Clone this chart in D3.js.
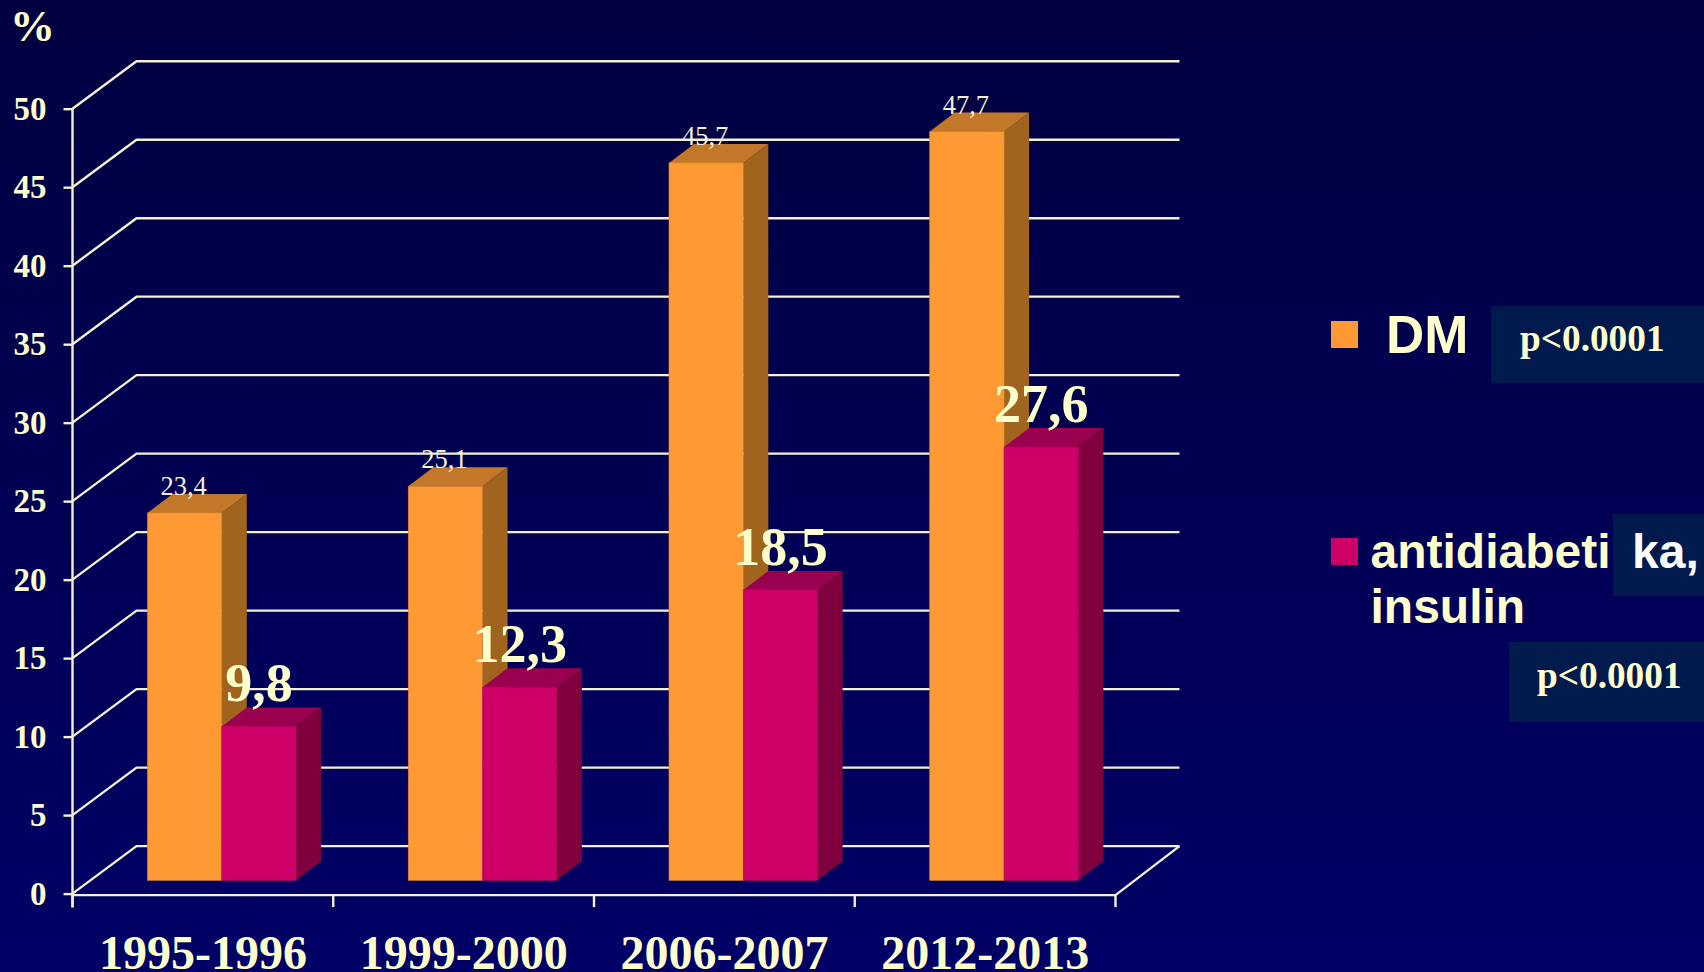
<!DOCTYPE html>
<html>
<head>
<meta charset="utf-8">
<script src="https://cdn.jsdelivr.net/npm/d3@7/dist/d3.min.js"></script>
<style>
html,body{margin:0;padding:0;background:#000050;overflow:hidden}
svg{display:block}
.serif{font-family:"Liberation Serif",serif}
.sans{font-family:"Liberation Sans",sans-serif}
</style>
</head>
<body>
<svg id="chart" width="1704" height="972"></svg>
<script>
const periods = ["1995-1996", "1999-2000", "2006-2007", "2012-2013"];
const dmValues = [23.4, 25.1, 45.7, 47.7];
const drugValues = [9.8, 12.3, 18.5, 27.6];
const valueTicks = [0, 5, 10, 15, 20, 25, 30, 35, 40, 45, 50];
const legendNames = ["DM", "antidiabetika,", "insulin"];
const pValues = ["p<0.0001", "p<0.0001"];

const cream = "#ffffcc";
const lineColor = "#f4f0d2";
const palette = {
  dm: {front: "#ff9933", side: "#a1641f", top: "#c27828", edge: "#e08a30"},
  drug: {front: "#cc0066", side: "#80003d", top: "#99004d", edge: "#c00060"}
};

const svg = d3.select("#chart");
const defs = svg.append("defs");
const grad = defs.append("linearGradient").attr("id", "bg")
  .attr("x1", 0).attr("y1", 0).attr("x2", 0).attr("y2", 1);
grad.append("stop").attr("offset", 0).attr("stop-color", "#000040");
grad.append("stop").attr("offset", 1).attr("stop-color", "#000066");
svg.append("rect").attr("width", 1704).attr("height", 972).attr("fill", "url(#bg)");

// Front plane of the value axis and category axis
const y = d3.scaleLinear().domain([0, 50]).range([893.6, 108.7]);
const x = d3.scaleBand().domain(periods).range([72.5, 1115.5]);

// Oblique offsets: wall depth, bar setback and bar depth
const wall = {dx: 64, dy: -47.5};
const barSetback = 13.3;
const barDepth = {dx: 25, dy: -19};
const barInset = 75;
const barWidth = 74.3;

// Back wall and side wall gridlines
const grid = svg.append("g").attr("fill", "none").attr("stroke", lineColor).attr("stroke-width", 2.4);
grid.selectAll("path.grid").data(valueTicks).join("path")
  .attr("class", "grid")
  .attr("d", d => {
    const p = d3.path();
    p.moveTo(72.5, y(d));
    p.lineTo(72.5 + wall.dx, y(d) + wall.dy);
    p.lineTo(1115.5 + wall.dx, y(d) + wall.dy);
    return p.toString();
  });
// Floor edge at the right-hand end
grid.append("line")
  .attr("x1", 1115.5).attr("y1", y(0) + 1.5)
  .attr("x2", 1115.5 + wall.dx).attr("y2", y(0) + wall.dy);

// Value axis
const yAxis = svg.append("g").attr("transform", "translate(72.5,0)")
  .call(d3.axisLeft(y).tickValues(valueTicks).tickSize(9).tickPadding(17));
yAxis.selectAll("path,line").attr("stroke", lineColor).attr("stroke-width", 2.4);
yAxis.select("path").attr("d", `M0,${y(50)}V${y(0) + 14}`);
yAxis.selectAll("text")
  .attr("class", "serif")
  .attr("fill", cream).attr("font-size", 33).attr("font-weight", "bold");

// Category axis: labels at band centres, ticks at band edges
const xAxis = svg.append("g").attr("transform", `translate(0,${y(0) + 1.5})`)
  .call(d3.axisBottom(x).tickSize(0).tickPadding(40));
xAxis.select("path").attr("stroke", lineColor).attr("stroke-width", 2.4)
  .attr("d", `M72.5,0H1115.5`);
xAxis.selectAll("text")
  .attr("class", "serif")
  .attr("fill", cream).attr("font-size", 48).attr("font-weight", "bold");
const edges = periods.map(p => x(p)).concat([x(periods[3]) + x.step()]);
xAxis.selectAll("line.edge").data(edges).join("line")
  .attr("class", "edge")
  .attr("x1", d => d).attr("x2", d => d).attr("y1", 0).attr("y2", 12)
  .attr("stroke", lineColor).attr("stroke-width", 2.4);

// One extruded bar: side and top faces, then the front face
function bar(g, left, value, colors) {
  const top = y(value) - barSetback;
  const base = y(0) - barSetback;
  const right = left + barWidth;
  const dx = barDepth.dx, dy = barDepth.dy;
  g.append("polygon").attr("fill", colors.side)
    .attr("points", [[right, top], [right + dx, top + dy], [right + dx, base + dy], [right, base]].join(" "));
  g.append("polygon").attr("fill", colors.top)
    .attr("points", [[left, top], [left + dx, top + dy], [right + dx, top + dy], [right, top]].join(" "));
  g.append("rect").attr("x", left).attr("y", top).attr("width", barWidth).attr("height", base - top)
    .attr("fill", colors.front).attr("stroke", colors.edge).attr("stroke-width", 0.6);
}

const bars = svg.append("g");
periods.forEach((p, i) => {
  const left = x(p) + barInset;
  bar(bars, left, dmValues[i], palette.dm);
  bar(bars, left + barWidth, drugValues[i], palette.drug);
});

const comma = v => d3.format(".1f")(v).replace(".", ",");

// Value labels
const labels = svg.append("g").attr("text-anchor", "middle").attr("class", "serif");
periods.forEach((p, i) => {
  const left = x(p) + barInset;
  labels.append("text")
    .attr("x", left + barWidth / 2 - 1)
    .attr("y", y(dmValues[i]) - barSetback + barDepth.dy + 1)
    .attr("font-size", 26.5).attr("fill", "#f2f0d8")
    .text(comma(dmValues[i]));
  labels.append("text")
    .attr("x", left + barWidth * 1.5)
    .attr("y", y(drugValues[i]) - barSetback + barDepth.dy - 6)
    .attr("font-size", 54).attr("font-weight", "bold").attr("fill", cream)
    .text(comma(drugValues[i]));
});

// Unit caption
svg.append("text").attr("class", "serif").attr("x", 10).attr("y", 41)
  .attr("font-size", 45).attr("font-weight", "bold").attr("fill", cream).text("%");

// Legend
const panel = "#001a4d";
svg.append("rect").attr("x", 1331).attr("y", 321).attr("width", 27).attr("height", 27).attr("fill", palette.dm.front);
svg.append("rect").attr("x", 1331).attr("y", 538).attr("width", 27).attr("height", 27).attr("fill", palette.drug.front);
svg.append("text").attr("class", "sans").attr("x", 1386).attr("y", 353)
  .attr("font-weight", "bold").attr("font-size", 53).attr("fill", cream).text(legendNames[0]);
svg.append("text").attr("class", "sans").attr("x", 1370.5).attr("y", 568)
  .attr("font-weight", "bold").attr("font-size", 48).attr("fill", cream).text(legendNames[1]);
svg.append("text").attr("class", "sans").attr("x", 1370.5).attr("y", 623)
  .attr("font-weight", "bold").attr("font-size", 48).attr("fill", cream).text(legendNames[2]);

// Significance panels; the middle one covers the end of the long legend name
svg.append("rect").attr("x", 1491).attr("y", 306).attr("width", 213).attr("height", 77).attr("fill", panel);
svg.append("rect").attr("x", 1613).attr("y", 514).attr("width", 91).attr("height", 82).attr("fill", panel);
svg.append("rect").attr("x", 1509).attr("y", 642).attr("width", 195).attr("height", 80).attr("fill", panel);
svg.append("text").attr("class", "serif").attr("x", 1520).attr("y", 351)
  .attr("font-weight", "bold").attr("font-size", 37.3).attr("fill", cream).text(pValues[0]);
svg.append("text").attr("class", "serif").attr("x", 1537).attr("y", 688)
  .attr("font-weight", "bold").attr("font-size", 37.3).attr("fill", cream).text(pValues[1]);
svg.append("text").attr("class", "sans").attr("x", 1632).attr("y", 568)
  .attr("font-weight", "bold").attr("font-size", 48).attr("fill", "#ffffff").text(legendNames[1].slice(-3));
</script>
</body>
</html>
